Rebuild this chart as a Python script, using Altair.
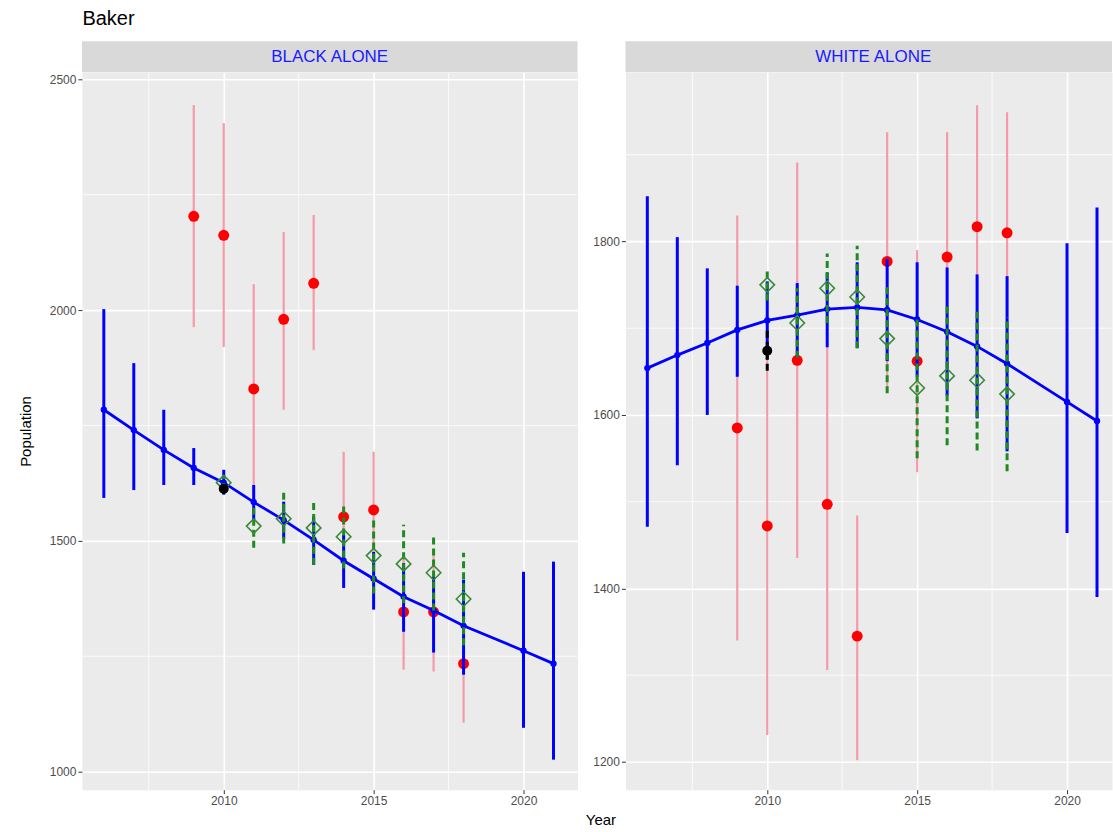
import altair as alt
import pandas as pd

FONT = "Liberation Sans"
TITLE = "Baker"
PANELS = ["BLACK ALONE", "WHITE ALONE"]
X_TITLE = "Year"
Y_TITLE = "Population"

X_TICKS = [2010, 2015, 2020]
X_MINOR = [2007.5, 2012.5, 2017.5]

EST_YEARS = [2006, 2007, 2008, 2009, 2010, 2011, 2012, 2013, 2014, 2015, 2016, 2017, 2018, 2020, 2021]
RED_YEARS = [2009, 2010, 2011, 2012, 2013, 2014, 2015, 2016, 2017, 2018]
GRN_YEARS = [2010, 2011, 2012, 2013, 2014, 2015, 2016, 2017, 2018]
BLK_YEARS = [2010]

# ---- BLACK ALONE ----
B_EST = [1784, 1740, 1697, 1658, 1626, 1584, 1545, 1502, 1457, 1418, 1379, 1349, 1316, 1262, 1234]
B_EST_LO = [1593, 1610, 1621, 1621, 1600, 1545, 1505, 1448, 1398, 1351, 1303, 1258, 1210, 1095, 1026]
B_EST_HI = [2002, 1885, 1784, 1701, 1654, 1621, 1585, 1552, 1513, 1476, 1452, 1422, 1416, 1433, 1455]
B_RED = [2203, 2162, 1829, 1980, 2058, 1552, 1567, 1346, 1346, 1234]
B_RED_LO = [1963, 1920, 1600, 1784, 1913, 1411, 1441, 1221, 1217, 1106]
B_RED_HI = [2444, 2405, 2056, 2169, 2206, 1693, 1693, 1471, 1475, 1362]
B_GRN = [1626, 1532, 1548, 1528, 1509, 1468, 1450, 1431, 1374]
B_GRN_LO = [1610, 1485, 1494, 1448, 1440, 1386, 1365, 1349, 1274]
B_GRN_HI = [1642, 1579, 1604, 1589, 1578, 1550, 1535, 1513, 1474]
B_BLK = [1613]
B_BLK_LO = [1602]
B_BLK_HI = [1624]
B_Y_DOMAIN = [961, 2515]
B_Y_TICKS = [1000, 1500, 2000, 2500]
B_Y_MINOR = [1250, 1750, 2250]

# ---- WHITE ALONE ----
W_EST = [1654, 1669, 1683, 1698, 1709, 1715, 1722, 1724, 1721, 1710, 1696, 1679, 1659, 1615, 1593]
W_EST_LO = [1471, 1542, 1600, 1644, 1664, 1666, 1678, 1677, 1662, 1644, 1622, 1596, 1558, 1464, 1390]
W_EST_HI = [1852, 1805, 1769, 1749, 1754, 1752, 1764, 1776, 1780, 1776, 1770, 1762, 1760, 1798, 1839]
W_RED = [1585, 1472, 1663, 1497, 1345, 1777, 1662, 1782, 1817, 1810]
W_RED_LO = [1340, 1231, 1435, 1306, 1202, 1628, 1534, 1638, 1677, 1671]
W_RED_HI = [1830, 1713, 1891, 1688, 1484, 1926, 1790, 1926, 1957, 1949]
W_GRN = [1750, 1706, 1746, 1736, 1688, 1631, 1645, 1640, 1624]
W_GRN_LO = [1732, 1666, 1706, 1677, 1625, 1550, 1565, 1559, 1535]
W_GRN_HI = [1768, 1746, 1786, 1795, 1751, 1712, 1725, 1721, 1713]
W_BLK = [1674]
W_BLK_LO = [1651]
W_BLK_HI = [1697]
W_Y_DOMAIN = [1168, 1995]
W_Y_TICKS = [1200, 1400, 1600, 1800]
W_Y_MINOR = [1300, 1500, 1700, 1900]

BLUE = "#0000FF"
PINK = "#F59AAA"
RED = "#FF0000"
GREEN = "#1F8A1F"
DIAMOND = "#3A8A3A"

PLOT_H = 718
STRIP_H = 31


def frame(years, val, lo, hi):
    return pd.DataFrame({"year": years, "val": val, "lo": lo, "hi": hi})


def panel(label, est, red, grn, blk, ydom, yticks, yminor, width, xdom, left):
    xenc = alt.X(
        "year:Q",
        scale=alt.Scale(domain=xdom, nice=False, zero=False),
        axis=alt.Axis(
            values=X_TICKS, format="d", title=X_TITLE if left else "",
            titleX=519, titleY=30, titleBaseline="middle", titleAlign="center",
        ),
    )
    yaxis = alt.Axis(
        values=yticks, format="d", title=Y_TITLE if left else "",
        minExtent=34, maxExtent=34, titlePadding=14,
    )
    yenc = alt.Y("val:Q", scale=alt.Scale(domain=ydom, nice=False, zero=False), axis=yaxis)
    ylo = alt.Y("lo:Q", scale=alt.Scale(domain=ydom, nice=False, zero=False), axis=yaxis)
    yhi = alt.Y2("hi:Q")

    minor_x = alt.Chart(pd.DataFrame({"year": X_MINOR})).mark_rule(
        color="white", strokeWidth=0.8).encode(x=xenc)
    minor_y = alt.Chart(pd.DataFrame({"val": yminor})).mark_rule(
        color="white", strokeWidth=0.8).encode(y=yenc)

    red_bars = alt.Chart(red).mark_rule(color=PINK, strokeWidth=2.2).encode(x=xenc, y=ylo, y2=yhi)
    red_pts = alt.Chart(red).mark_circle(color=RED, size=120, opacity=1).encode(x=xenc, y=yenc)
    est_bars = alt.Chart(est).mark_rule(color=BLUE, strokeWidth=3).encode(x=xenc, y=ylo, y2=yhi)
    est_line = alt.Chart(est).mark_line(color=BLUE, strokeWidth=2.8).encode(x=xenc, y=yenc)
    est_pts = alt.Chart(est).mark_circle(color=BLUE, size=40, opacity=1).encode(x=xenc, y=yenc)
    grn_bars = alt.Chart(grn).mark_rule(color=GREEN, strokeWidth=3, strokeDash=[7, 4]).encode(
        x=xenc, y=ylo, y2=yhi)
    grn_pts = alt.Chart(grn).mark_point(
        shape="diamond", filled=False, color=DIAMOND, size=210, strokeWidth=1.6, opacity=1
    ).encode(x=xenc, y=yenc)
    blk_bars = alt.Chart(blk).mark_rule(color="black", strokeWidth=3, strokeDash=[7, 4]).encode(
        x=xenc, y=ylo, y2=yhi)
    blk_pts = alt.Chart(blk).mark_circle(color="black", size=100, opacity=1).encode(x=xenc, y=yenc)

    strip_data = pd.DataFrame({"label": [label]})
    strip_bg = alt.Chart(strip_data).mark_rect(color="#D9D9D9").encode(
        x=alt.value(0), x2=alt.value(width), y=alt.value(-STRIP_H), y2=alt.value(0))
    strip_txt = alt.Chart(strip_data).mark_text(
        color="#1A1AFF", font=FONT, fontSize=17, baseline="middle", align="center"
    ).encode(x=alt.value(248), y=alt.value(-STRIP_H / 2), text="label:N")

    return alt.layer(
        minor_x, minor_y, red_bars, red_pts, est_bars, est_line, est_pts,
        grn_bars, grn_pts, blk_bars, blk_pts, strip_bg, strip_txt,
    ).properties(width=width, height=PLOT_H)


left = panel(
    PANELS[0],
    frame(EST_YEARS, B_EST, B_EST_LO, B_EST_HI),
    frame(RED_YEARS, B_RED, B_RED_LO, B_RED_HI),
    frame(GRN_YEARS, B_GRN, B_GRN_LO, B_GRN_HI),
    frame(BLK_YEARS, B_BLK, B_BLK_LO, B_BLK_HI),
    B_Y_DOMAIN, B_Y_TICKS, B_Y_MINOR, 496, [2005.27, 2021.8], True,
)
right = panel(
    PANELS[1],
    frame(EST_YEARS, W_EST, W_EST_LO, W_EST_HI),
    frame(RED_YEARS, W_RED, W_RED_LO, W_RED_HI),
    frame(GRN_YEARS, W_GRN, W_GRN_LO, W_GRN_HI),
    frame(BLK_YEARS, W_BLK, W_BLK_LO, W_BLK_HI),
    W_Y_DOMAIN, W_Y_TICKS, W_Y_MINOR, 487, [2005.27, 2021.5], False,
)

chart = alt.HConcatChart(
    hconcat=[left, right], spacing=48, bounds="flush",
    title=alt.TitleParams(TITLE, anchor="start", font=FONT, fontSize=20,
                          fontWeight="normal", color="black", offset=12, dx=64),
    padding={"left": 18, "top": 8, "right": 0, "bottom": 0},
    background="white",
).configure_view(
    fill="#EBEBEB", stroke="transparent"
).configure_axis(
    domain=False, tickColor="#333333", tickSize=4, tickWidth=1,
    labelColor="#4D4D4D", labelFont=FONT, labelFontSize=12, labelPadding=2,
    titleFont=FONT, titleFontSize=15, titleFontWeight="normal", titleColor="black",
    gridColor="white", gridWidth=1.6,
)

chart.save("out.html", embed_options={"renderer": "svg", "actions": False})
